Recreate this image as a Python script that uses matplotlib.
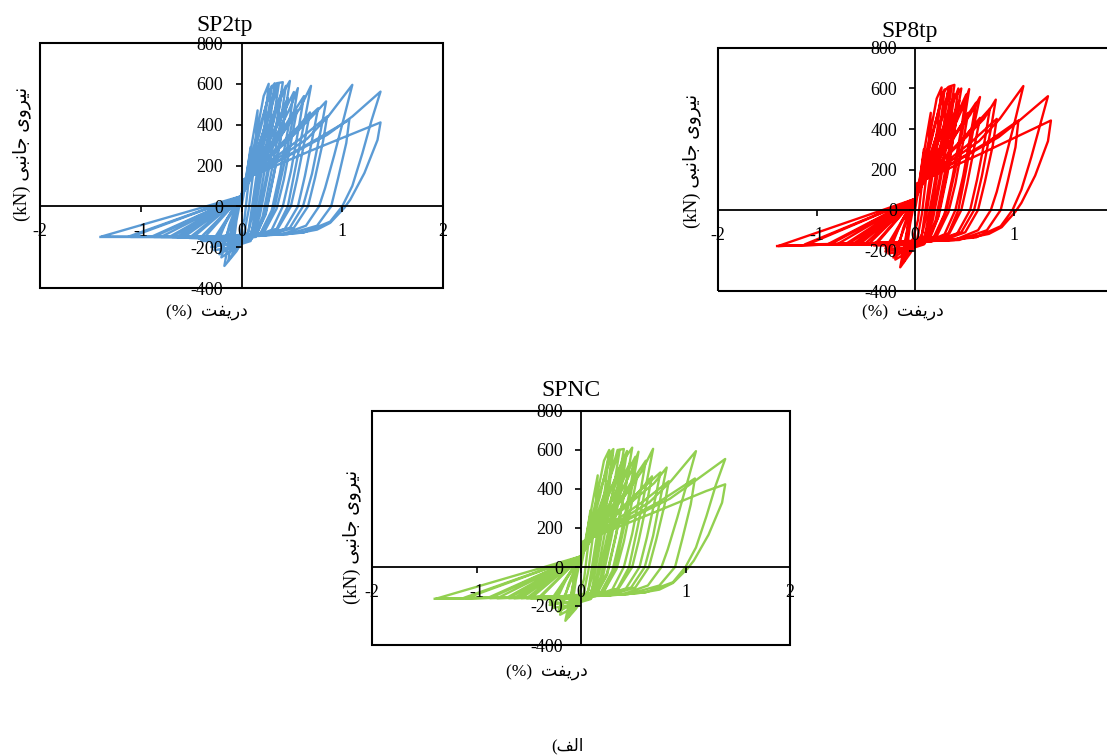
import matplotlib
matplotlib.use("Agg")
import matplotlib.pyplot as plt
from matplotlib.patches import Rectangle

plt.rcParams["axes.unicode_minus"] = False
plt.rcParams["font.family"] = ["Liberation Serif", "DejaVu Sans"]

W, H = 1107, 756

# Hysteresis paths (drift %, lateral force kN), one row per cycle
sp2tp_drift = [
    0.00, 0.04, 0.09, 0.07, 0.03, -0.04, -0.09, -0.05, -0.01,
    0.04, 0.10, 0.16, 0.13, 0.07, 0.02, -0.08, -0.13, -0.07, -0.01,
    0.05, 0.14, 0.22, 0.27, 0.23, 0.14, 0.07, -0.05, -0.17, -0.12, -0.05, 0.00,
    0.07, 0.18, 0.28, 0.33, 0.28, 0.18, 0.10, -0.08, -0.20, -0.12, -0.03, 0.00,
    0.06, 0.20, 0.30, 0.26, 0.17, 0.11, 0.06, -0.10, -0.22, 0.00,
    0.09, 0.23, 0.35, 0.41, 0.36, 0.26, 0.17, 0.09, -0.10, -0.27, -0.14, -0.03, 0.00,
    0.10, 0.28, 0.40, 0.35, 0.26, 0.18, 0.10, -0.12, -0.30, 0.00,
    0.08, 0.26, 0.37, 0.32, 0.22, 0.15, 0.08, -0.12, -0.30, 0.00,
    0.10, 0.25, 0.38, 0.48, 0.43, 0.33, 0.24, 0.14, -0.15, -0.42, 0.00,
    0.12, 0.32, 0.46, 0.41, 0.32, 0.24, 0.14, -0.20, -0.48, 0.00,
    0.10, 0.30, 0.44, 0.39, 0.29, 0.21, 0.12, -0.15, -0.40, 0.00,
    0.10, 0.36, 0.48, 0.56, 0.51, 0.42, 0.33, 0.22, 0.05, -0.30, -0.57, 0.00,
    0.10, 0.40, 0.55, 0.50, 0.42, 0.35, 0.22, -0.30, -0.60, 0.00,
    0.10, 0.34, 0.52, 0.47, 0.38, 0.30, 0.18, -0.25, -0.52, 0.00,
    0.08, 0.44, 0.58, 0.69, 0.63, 0.54, 0.46, 0.35, 0.18, -0.35, -0.69, 0.00,
    0.08, 0.48, 0.68, 0.63, 0.55, 0.49, 0.36, 0.18, -0.35, -0.71, 0.00,
    0.08, 0.40, 0.62, 0.57, 0.49, 0.41, 0.30, 0.15, -0.35, -0.64, 0.00,
    0.06, 0.52, 0.70, 0.84, 0.79, 0.70, 0.61, 0.48, 0.25, -0.40, -0.87, 0.00,
    0.06, 0.58, 0.85, 0.81, 0.73, 0.66, 0.52, 0.28, -0.40, -0.89, 0.00,
    0.07, 0.50, 0.76, 0.71, 0.63, 0.56, 0.43, 0.22, -0.40, -0.80, 0.00,
    0.05, 0.65, 0.86, 1.10, 1.02, 0.92, 0.83, 0.77, 0.64, 0.40, -0.50, -1.10, 0.00,
    0.04, 0.75, 1.07, 1.04, 0.96, 0.89, 0.75, 0.45, -0.50, -1.12, 0.00,
    0.03, 0.85, 1.10, 1.38, 1.29, 1.20, 1.10, 1.00, 0.88, 0.62, 0.30, -0.50, -1.39, 0.00,
    0.02, 0.70, 1.20, 1.38, 1.35, 1.22, 1.08, 1.02, 0.88, 0.75, 0.58, 0.25, -0.50, -1.40,
]
sp2tp_force = [
    0, 110, 290, 120, -60, -180, -230, -70, 30,
    130, 300, 470, 220, -20, -150, -230, -265, -70, 35,
    140, 330, 540, 600, 400, 120, -120, -220, -292, -150, 0, 50,
    150, 360, 570, 603, 400, 110, -130, -210, -250, -90, 30, 50,
    150, 420, 590, 420, 150, -40, -140, -200, -235, 50,
    160, 390, 603, 608, 440, 180, -40, -170, -200, -215, -60, 35, 50,
    160, 400, 560, 400, 150, -50, -160, -185, -180, 50,
    160, 430, 600, 430, 150, -50, -150, -185, -200, 50,
    150, 290, 530, 614, 450, 180, -30, -150, -165, -160, 50,
    160, 370, 530, 390, 150, -40, -145, -158, -152, 50,
    165, 420, 590, 420, 150, -50, -150, -170, -170, 50,
    160, 360, 480, 579, 430, 200, 0, -125, -150, -155, -150, 50,
    155, 350, 470, 340, 130, -10, -130, -152, -148, 50,
    160, 380, 560, 400, 160, -20, -140, -160, -155, 50,
    150, 380, 480, 590, 430, 200, 0, -110, -145, -152, -150, 50,
    145, 340, 460, 330, 130, 0, -110, -142, -150, -148, 50,
    150, 370, 540, 390, 170, 0, -115, -145, -152, -150, 50,
    140, 350, 440, 514, 380, 160, 0, -105, -140, -150, -150, 50,
    140, 330, 440, 320, 140, 0, -105, -140, -150, -148, 50,
    145, 360, 480, 350, 150, 0, -110, -142, -150, -150, 50,
    135, 330, 440, 595, 440, 250, 90, 0, -95, -138, -150, -150, 50,
    132, 330, 424, 310, 140, 0, -95, -138, -150, -148, 50,
    132, 350, 440, 562, 420, 260, 100, 0, -75, -128, -140, -150, -148, 50,
    132, 275, 375, 411, 325, 163, 33, -8, -81, -114, -130, -140, -150, -150,
]

sp8tp_drift = [
    0.00, 0.04, 0.09, 0.07, 0.03, -0.04, -0.09, -0.05, -0.01,
    0.04, 0.10, 0.16, 0.13, 0.07, 0.02, -0.08, -0.12, -0.07, -0.01,
    0.05, 0.14, 0.22, 0.27, 0.23, 0.14, 0.07, -0.05, -0.15, -0.10, -0.04, 0.00,
    0.07, 0.18, 0.28, 0.34, 0.29, 0.19, 0.10, -0.08, -0.20, -0.12, -0.03, 0.00,
    0.06, 0.20, 0.30, 0.26, 0.17, 0.11, 0.06, -0.10, -0.22, 0.00,
    0.09, 0.24, 0.35, 0.40, 0.35, 0.26, 0.17, 0.09, -0.10, -0.27, -0.14, -0.03, 0.00,
    0.10, 0.29, 0.40, 0.35, 0.26, 0.18, 0.10, -0.12, -0.30, 0.00,
    0.08, 0.26, 0.37, 0.32, 0.22, 0.15, 0.08, -0.12, -0.30, 0.00,
    0.10, 0.26, 0.38, 0.47, 0.42, 0.33, 0.24, 0.14, -0.15, -0.42, 0.00,
    0.12, 0.32, 0.45, 0.40, 0.31, 0.23, 0.13, -0.20, -0.48, 0.00,
    0.10, 0.30, 0.44, 0.39, 0.29, 0.21, 0.12, -0.15, -0.40, 0.00,
    0.10, 0.36, 0.48, 0.55, 0.50, 0.41, 0.32, 0.21, 0.05, -0.30, -0.57, 0.00,
    0.10, 0.40, 0.54, 0.49, 0.41, 0.34, 0.21, -0.30, -0.60, 0.00,
    0.10, 0.34, 0.52, 0.47, 0.38, 0.30, 0.18, -0.25, -0.52, 0.00,
    0.08, 0.42, 0.56, 0.66, 0.60, 0.52, 0.44, 0.34, 0.17, -0.35, -0.69, 0.00,
    0.08, 0.48, 0.66, 0.61, 0.53, 0.47, 0.35, 0.18, -0.35, -0.71, 0.00,
    0.08, 0.40, 0.62, 0.57, 0.49, 0.41, 0.30, 0.15, -0.35, -0.64, 0.00,
    0.06, 0.52, 0.70, 0.82, 0.77, 0.68, 0.60, 0.47, 0.25, -0.40, -0.87, 0.00,
    0.06, 0.57, 0.83, 0.79, 0.71, 0.64, 0.51, 0.28, -0.40, -0.89, 0.00,
    0.07, 0.50, 0.76, 0.71, 0.63, 0.56, 0.43, 0.22, -0.40, -0.80, 0.00,
    0.05, 0.65, 0.86, 1.10, 1.02, 0.92, 0.83, 0.77, 0.64, 0.40, -0.50, -1.10, 0.00,
    0.04, 0.75, 1.05, 1.02, 0.94, 0.87, 0.73, 0.45, -0.50, -1.12, 0.00,
    0.03, 0.85, 1.08, 1.35, 1.27, 1.18, 1.08, 0.99, 0.87, 0.62, 0.30, -0.50, -1.39, 0.00,
    0.02, 0.70, 1.20, 1.38, 1.35, 1.22, 1.08, 1.02, 0.88, 0.75, 0.58, 0.25, -0.50, -1.40,
]
sp8tp_force = [
    0, 115, 300, 130, -50, -175, -225, -70, 30,
    130, 310, 480, 230, -20, -150, -225, -260, -70, 35,
    140, 340, 550, 605, 410, 120, -120, -215, -283, -150, 0, 55,
    150, 370, 580, 608, 410, 110, -130, -210, -245, -90, 35, 55,
    150, 420, 595, 420, 150, -40, -145, -200, -235, 55,
    160, 400, 610, 618, 440, 180, -40, -170, -200, -215, -60, 40, 55,
    165, 410, 570, 400, 150, -50, -165, -190, -190, 55,
    160, 430, 605, 430, 150, -50, -155, -190, -205, 55,
    155, 300, 540, 600, 450, 180, -30, -155, -175, -175, 55,
    165, 380, 540, 390, 150, -40, -150, -170, -172, 55,
    165, 420, 600, 420, 150, -50, -155, -172, -172, 55,
    160, 370, 500, 597, 440, 200, 0, -130, -160, -168, -172, 55,
    155, 360, 480, 340, 130, -10, -140, -165, -170, 55,
    160, 380, 570, 400, 160, -20, -145, -168, -172, 55,
    150, 380, 470, 558, 420, 200, 0, -115, -155, -165, -172, 55,
    145, 345, 455, 330, 130, 0, -115, -152, -165, -170, 55,
    150, 370, 530, 390, 170, 0, -120, -152, -165, -172, 55,
    140, 360, 450, 545, 400, 170, 0, -110, -150, -165, -172, 55,
    140, 335, 450, 320, 140, 0, -110, -150, -165, -170, 55,
    145, 360, 500, 350, 150, 0, -115, -150, -165, -172, 55,
    135, 340, 450, 612, 450, 260, 90, 0, -100, -148, -165, -172, 55,
    132, 340, 442, 310, 140, 0, -100, -148, -165, -170, 55,
    132, 360, 450, 562, 420, 260, 100, 0, -80, -135, -150, -165, -178, 55,
    132, 285, 400, 442, 340, 170, 35, -8, -85, -118, -135, -150, -165, -178,
]

spnc_drift = [
    0.00, 0.04, 0.09, 0.07, 0.03, -0.04, -0.09, -0.05, -0.01,
    0.04, 0.10, 0.16, 0.13, 0.07, 0.02, -0.08, -0.12, -0.07, -0.01,
    0.05, 0.14, 0.22, 0.27, 0.23, 0.14, 0.07, -0.05, -0.15, -0.10, -0.04, 0.00,
    0.07, 0.18, 0.27, 0.31, 0.27, 0.18, 0.10, -0.08, -0.20, -0.12, -0.03, 0.00,
    0.06, 0.20, 0.30, 0.26, 0.17, 0.11, 0.06, -0.10, -0.22, 0.00,
    0.09, 0.24, 0.35, 0.41, 0.36, 0.26, 0.17, 0.09, -0.10, -0.27, -0.14, -0.03, 0.00,
    0.10, 0.29, 0.41, 0.36, 0.27, 0.19, 0.10, -0.12, -0.30, 0.00,
    0.08, 0.26, 0.37, 0.32, 0.22, 0.15, 0.08, -0.12, -0.30, 0.00,
    0.10, 0.26, 0.39, 0.49, 0.44, 0.34, 0.25, 0.14, -0.15, -0.42, 0.00,
    0.12, 0.32, 0.47, 0.42, 0.33, 0.25, 0.14, -0.20, -0.48, 0.00,
    0.10, 0.30, 0.44, 0.39, 0.29, 0.21, 0.12, -0.15, -0.40, 0.00,
    0.10, 0.36, 0.48, 0.55, 0.50, 0.41, 0.33, 0.22, 0.05, -0.30, -0.57, 0.00,
    0.10, 0.40, 0.54, 0.49, 0.41, 0.34, 0.21, -0.30, -0.60, 0.00,
    0.10, 0.34, 0.52, 0.47, 0.38, 0.30, 0.18, -0.25, -0.52, 0.00,
    0.08, 0.44, 0.58, 0.69, 0.63, 0.54, 0.46, 0.35, 0.18, -0.35, -0.69, 0.00,
    0.08, 0.48, 0.68, 0.63, 0.55, 0.49, 0.36, 0.18, -0.35, -0.71, 0.00,
    0.08, 0.40, 0.62, 0.57, 0.49, 0.41, 0.30, 0.15, -0.35, -0.64, 0.00,
    0.06, 0.52, 0.70, 0.82, 0.77, 0.69, 0.61, 0.48, 0.25, -0.40, -0.87, 0.00,
    0.06, 0.58, 0.84, 0.80, 0.72, 0.65, 0.52, 0.28, -0.40, -0.89, 0.00,
    0.07, 0.50, 0.76, 0.71, 0.63, 0.56, 0.43, 0.22, -0.40, -0.80, 0.00,
    0.05, 0.65, 0.86, 1.10, 1.02, 0.92, 0.83, 0.77, 0.64, 0.40, -0.50, -1.10, 0.00,
    0.04, 0.75, 1.09, 1.05, 0.97, 0.90, 0.75, 0.45, -0.50, -1.12, 0.00,
    0.03, 0.85, 1.10, 1.38, 1.29, 1.20, 1.10, 1.00, 0.88, 0.62, 0.30, -0.50, -1.39, 0.00,
    0.02, 0.70, 1.20, 1.38, 1.35, 1.22, 1.08, 1.02, 0.88, 0.75, 0.58, 0.25, -0.50, -1.40,
]
spnc_force = [
    0, 110, 290, 120, -60, -175, -225, -70, 30,
    130, 300, 470, 220, -20, -150, -225, -255, -70, 35,
    140, 330, 545, 600, 400, 120, -120, -215, -276, -150, 0, 55,
    150, 360, 580, 605, 400, 110, -130, -210, -245, -90, 30, 55,
    150, 420, 590, 420, 150, -40, -140, -195, -230, 55,
    160, 390, 600, 605, 440, 180, -40, -165, -195, -210, -60, 35, 55,
    160, 400, 565, 400, 150, -50, -160, -185, -180, 55,
    160, 430, 600, 430, 150, -50, -150, -180, -195, 55,
    150, 295, 535, 612, 450, 180, -30, -150, -165, -165, 55,
    160, 370, 535, 390, 150, -40, -145, -162, -160, 55,
    165, 420, 595, 420, 150, -50, -150, -162, -162, 55,
    160, 360, 490, 591, 440, 200, 0, -125, -152, -158, -160, 55,
    155, 350, 470, 340, 130, -10, -132, -155, -158, 55,
    160, 380, 565, 400, 160, -20, -140, -158, -160, 55,
    150, 380, 490, 606, 440, 200, 0, -110, -148, -155, -160, 55,
    145, 340, 465, 330, 130, 0, -110, -145, -155, -158, 55,
    150, 370, 545, 390, 170, 0, -115, -145, -155, -160, 55,
    140, 350, 430, 510, 380, 160, 0, -105, -145, -155, -160, 55,
    140, 330, 440, 320, 140, 0, -105, -145, -155, -158, 55,
    145, 360, 485, 350, 150, 0, -110, -145, -155, -160, 55,
    135, 330, 440, 594, 440, 250, 90, 0, -95, -140, -155, -160, 55,
    132, 335, 454, 320, 145, 0, -95, -140, -155, -158, 55,
    132, 350, 445, 554, 420, 260, 100, 0, -78, -130, -145, -155, -163, 55,
    132, 280, 390, 424, 330, 165, 33, -8, -82, -116, -132, -145, -155, -163,
]

titles = ["SP2tp", "SP8tp", "SPNC"]
colors = ["#5B9BD5", "#FF0000", "#92D050"]

# Persian labels, written in visual (shaped, left-to-right) order
YLABEL = "(kN) \uFBFD\uFE92\uFEE7\uFE8E\uFE9F \uFBFC\uFEED\uFEAE\uFBFF\uFEE7"
XLABEL = "(%)  \uFE96\uFED4\uFBFE\uFEAD\uFEA9"
CAPTION = "(\uFED2\uFEDF\uFE8D"

FAMILY = ["Liberation Serif", "DejaVu Sans"]


def fx(px):
    return px / W


def fy(py):
    return 1 - py / H


def draw_panel(fig, box, drift, force, color, title, title_pos, ylab_pos, xlab_pos,
               xticks=(-2, -1, 0, 1, 2)):
    left, top, right, bottom = box
    ax = fig.add_axes([fx(left), fy(bottom), (right - left) / W, (bottom - top) / H])
    ax.plot(drift, force, color=color, lw=1.7, solid_joinstyle="round")

    ax.set_xlim(-2, 2)
    ax.set_ylim(-400, 800)
    ax.set_xticks(list(xticks))
    ax.set_yticks([-400, -200, 0, 200, 400, 600, 800])

    # Excel-style axes crossing at zero inside a framed plot area
    ax.spines["left"].set_position(("data", 0))
    ax.spines["bottom"].set_position(("data", 0))
    ax.spines["top"].set_visible(False)
    ax.spines["right"].set_visible(False)
    for s in ("left", "bottom"):
        ax.spines[s].set_linewidth(1.3)
    ax.add_patch(Rectangle((0, 0), 1, 1, transform=ax.transAxes, fill=False,
                           lw=1.5, edgecolor="black", clip_on=False, zorder=3))
    ax.set_axisbelow(False)

    ax.tick_params(axis="both", direction="out", length=4, width=1.2,
                   labelsize=13, colors="black")
    ax.tick_params(axis="y", pad=9)
    ax.tick_params(axis="x", pad=8)
    for lab in ax.get_xticklabels() + ax.get_yticklabels():
        lab.set_family(FAMILY)

    fig.text(fx(title_pos[0]), fy(title_pos[1]), title, fontsize=17,
             family=FAMILY, ha="center", va="baseline")
    fig.text(fx(ylab_pos[0]), fy(ylab_pos[1]), YLABEL, fontsize=13.5, rotation=90,
             family=FAMILY, ha="center", va="center")
    fig.text(fx(xlab_pos[0]), fy(xlab_pos[1]), XLABEL, fontsize=12.5,
             family=FAMILY, ha="center", va="center")
    return ax


fig = plt.figure(figsize=(W / 100, H / 100), dpi=100)

draw_panel(fig, (40, 43, 443, 288), sp2tp_drift, sp2tp_force, colors[0], titles[0],
           (225, 31), (22, 154), (207, 313))
draw_panel(fig, (718, 48, 1112, 291), sp8tp_drift, sp8tp_force, colors[1], titles[1],
           (910, 37), (692, 161), (903, 313), xticks=(-2, -1, 0, 1))
draw_panel(fig, (372, 411, 790, 645), spnc_drift, spnc_force, colors[2], titles[2],
           (571, 396), (352, 537), (547, 673))

fig.text(fx(567), fy(746), CAPTION, fontsize=12, family=FAMILY, ha="center", va="center")

fig.savefig("out.png", dpi=100)
